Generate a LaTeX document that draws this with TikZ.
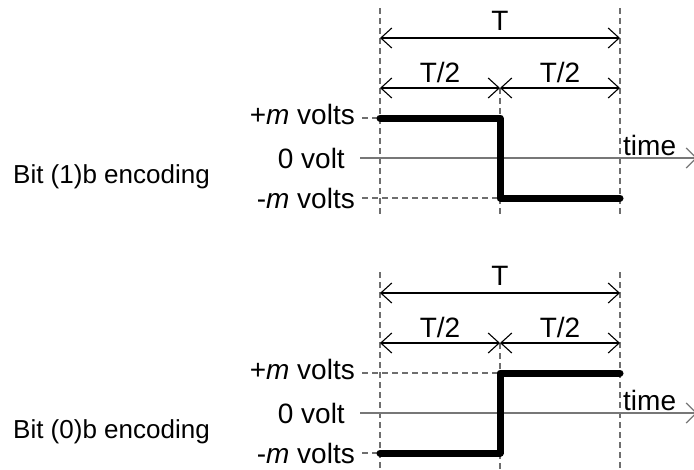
\documentclass[tikz,border=0pt]{standalone}
\usepackage{fontspec}
\setmainfont{Liberation Sans}
\usetikzlibrary{arrows.meta}
\definecolor{guidegray}{HTML}{6E6E6E}
\definecolor{axisgray}{HTML}{777777}

\tikzset{
  guide/.style={draw=guidegray, line width=1.1pt, dash pattern=on 6pt off 4pt},
  dim/.style={line width=1.1pt, {Straight Barb[length=11pt,width=20pt]}-{Straight Barb[length=11pt,width=20pt]}},
  axisline/.style={draw=axisgray, line width=1.2pt, -{Straight Barb[length=10pt,width=20pt]}},
  signal/.style={line width=7pt, line cap=round, line join=round},
  lbl/.style={inner sep=0pt, font=\fontsize{28}{32}\selectfont},
}

\begin{document}
\begin{tikzpicture}[x=1pt, y=-1pt]
  \useasboundingbox (0,0) rectangle (694,469);
  \clip (0,0) rectangle (694,469);
  \foreach \dy/\gtop/\gbot/\first/\second/\bit in {0/8/217/118/198/1, 255/17/220/198/118/0}{
    \begin{scope}[shift={(0,\dy)}]
      \coordinate (t0) at (380,0);
      \coordinate (t1) at (500,0);
      \coordinate (t2) at (620,0);
      \coordinate (gtop) at (0,\gtop);
      \coordinate (gbot) at (0,\gbot);
      \coordinate (Ty) at (0,38);
      \coordinate (Hy) at (0,88);
      \coordinate (hi) at (362,118);
      \coordinate (zero) at (360,158);
      \coordinate (lo) at (362,198);
      \coordinate (tend) at (697,158);
      \coordinate (first) at (362,\first);
      \coordinate (second) at (362,\second);
      % guides
      \draw[guide] (t0 |- gtop) -- (t0 |- gbot);
      \draw[guide] (t2 |- gtop) -- (t2 |- gbot);
      \draw[guide] (t1 |- Hy) -- (t1 |- gbot);
      \draw[guide] (first) -- (t0 |- first);
      \draw[guide] (second) -- (t1 |- second);
      % period marks
      \draw[dim] (t0 |- Ty) -- (t2 |- Ty);
      \draw[dim] (t0 |- Hy) -- (t1 |- Hy);
      \draw[dim] (t1 |- Hy) -- (t2 |- Hy);
      \node[lbl, anchor=base] (T\bit) at (500,30) {T};
      \node[lbl, anchor=base] (ha\bit) at (440,82) {T/2};
      \node[lbl, anchor=base] (hb\bit) at (560,82) {T/2};
      % levels
      \node[lbl, anchor=east] (pm\bit) at ([xshift=-7pt, yshift=4pt]hi) {+\textit{m} volts};
      \node[lbl, anchor=east] (zv\bit) at ([xshift=-15pt]zero) {0 volt};
      \node[lbl, anchor=east] (mm\bit) at ([xshift=-7pt]lo) {-\textit{m} volts};
      \draw[axisline] (zero) -- (tend);
      \node[lbl, anchor=base west] (time\bit) at (623,155) {time};
      \node[lbl, anchor=base west, font=\fontsize{26}{30}\selectfont] (bit\bit) at (13,183) {Bit (\bit)b encoding};
      % signal
      \draw[signal] (t0 |- first) -- (t1 |- first) -- (t1 |- second) -- (t2 |- second);
    \end{scope}
  }
\end{tikzpicture}
\end{document}
